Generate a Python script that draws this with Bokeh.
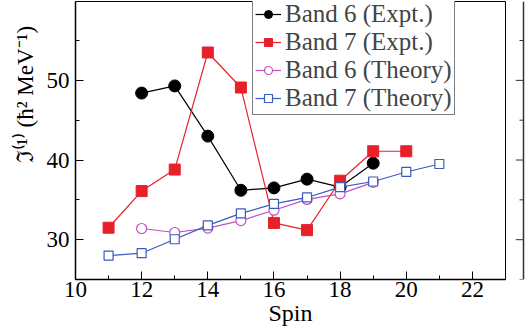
from bokeh.plotting import figure
from bokeh.layouts import row
from bokeh.models import FixedTicker, Legend, LegendItem, Range1d
from bokeh.embed import file_html
from bokeh.resources import INLINE

spin6e = [12, 13, 14, 15, 16, 17, 18, 19]
band6_expt = [48.4, 49.3, 43.0, 36.2, 36.5, 37.6, 36.6, 39.6]
spin7e = [11, 12, 13, 14, 15, 16, 17, 18, 19, 20]
band7_expt = [31.5, 36.1, 38.8, 53.5, 49.1, 32.1, 31.2, 37.4, 41.1, 41.1]
spin6t = [12, 13, 14, 15, 16, 17, 18, 19]
band6_theory = [31.4, 30.9, 31.45, 32.4, 33.7, 35.05, 35.75, 37.2]
spin7t = [11, 12, 13, 14, 15, 16, 17, 18, 19, 20, 21]
band7_theory = [28.0, 28.3, 30.05, 31.8, 33.3, 34.5, 35.3, 36.6, 37.3, 38.5, 39.5]

x_ticks = [10, 12, 14, 16, 18, 20, 22]
y_ticks = [30, 40, 50]
y_minor = [25, 35, 45, 55]
labels = ["Band 6 (Expt.)", "Band 7 (Expt.)", "Band 6 (Theory)", "Band 7 (Theory)"]
y_label = "\u2007" * 8 + "\u2111\u207d\u00b9\u207e (\u0127\u00b2 MeV\u207b\u00b9)"

FONT = "Liberation Serif"
RED = "#e8202a"
MAG = "#c050c0"
BLUE = "#3a5bbf"

yr = Range1d(25, 59.9)
p = figure(width=515, height=332, output_backend="svg", toolbar_location=None,
           x_range=Range1d(10, 23), y_range=yr,
           min_border_left=75, min_border_right=10, min_border_top=1, min_border_bottom=53)
p.grid.visible = False
p.outline_line_color = "black"
p.outline_line_width = 1

for ax in (p.xaxis[0], p.yaxis[0]):
    ax.major_tick_in = 8
    ax.major_tick_out = 0
    ax.minor_tick_in = 4
    ax.minor_tick_out = 0
    ax.axis_line_color = "black"
    ax.axis_line_width = 1.5
    ax.major_tick_line_width = 1
    ax.major_label_text_font = FONT
    ax.major_label_text_font_size = "23px"
    ax.major_label_text_color = "black"
    ax.axis_label_text_font = FONT
    ax.axis_label_text_font_style = "normal"
    ax.axis_label_text_font_size = "24px"
    ax.axis_label_text_color = "black"

p.xaxis.ticker = FixedTicker(ticks=x_ticks, minor_ticks=[11, 13, 15, 17, 19, 21, 23])
p.yaxis.ticker = FixedTicker(ticks=y_ticks, minor_ticks=y_minor)
p.xaxis.major_label_standoff = 2
p.yaxis.major_label_standoff = 6
p.xaxis.axis_label = "Spin"
p.xaxis.axis_label_standoff = 0
p.yaxis.axis_label = y_label
p.yaxis.axis_label_standoff = 6
p.yaxis.axis_label_text_font_size = "23px"

LW = 1.2
r1l = p.line(spin6e, band6_expt, color="black", line_width=LW)
r1m = p.scatter(spin6e, band6_expt, marker="circle", size=12, color="black")
r2l = p.line(spin7e, band7_expt, color=RED, line_width=LW)
r2m = p.scatter(spin7e, band7_expt, marker="square", size=11, color=RED)
r3l = p.line(spin6t, band6_theory, color=MAG, line_width=LW)
r3m = p.scatter(spin6t, band6_theory, marker="circle", size=10, line_color=MAG,
                fill_color="white", line_width=1.2)
r4l = p.line(spin7t, band7_theory, color=BLUE, line_width=LW)
r4m = p.scatter(spin7t, band7_theory, marker="square", size=9, line_color=BLUE,
                fill_color="white", line_width=1.2)

legend = Legend(items=[
    LegendItem(label=labels[0], renderers=[r1l, r1m]),
    LegendItem(label=labels[1], renderers=[r2l, r2m]),
    LegendItem(label=labels[2], renderers=[r3l, r3m]),
    LegendItem(label=labels[3], renderers=[r4l, r4m]),
], location=(177, 164))
legend.label_text_font = FONT
legend.label_text_font_size = "25px"
legend.label_height = 20
legend.glyph_height = 20
legend.glyph_width = 26
legend.label_standoff = 4
legend.spacing = -2
legend.padding = 2
legend.margin = 0
legend.border_line_color = "black"
legend.border_line_width = 1
legend.background_fill_alpha = 1
p.add_layout(legend, "center")

# fragment of the neighbouring panel at the right edge (axis line with outward ticks)
p2 = figure(width=14, height=332, output_backend="svg", toolbar_location=None,
            x_range=Range1d(0, 14), y_range=yr,
            min_border_left=0, min_border_right=0, min_border_top=1, min_border_bottom=53)
p2.grid.visible = False
p2.outline_line_color = None
p2.xaxis.visible = False
p2.yaxis.visible = False
p2.segment(x0=[0] * len(y_ticks), y0=y_ticks, x1=[8] * len(y_ticks), y1=y_ticks,
           line_color="#333333", line_width=1)
p2.segment(x0=[4] * len(y_minor), y0=y_minor, x1=[8] * len(y_minor), y1=y_minor,
           line_color="#333333", line_width=1)
p2.segment(x0=[8], y0=[yr.start], x1=[8], y1=[yr.end], line_color="#333333", line_width=1.5)

open("out.html", "w").write(file_html(row(p, p2), INLINE))
